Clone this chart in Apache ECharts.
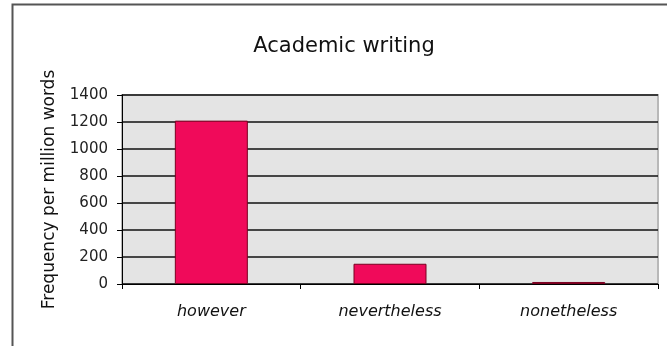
<!DOCTYPE html>
<html>
<head>
<meta charset="utf-8">
<script src="https://cdn.jsdelivr.net/npm/echarts@6/dist/echarts.min.js"></script>
<style>
  html, body { margin: 0; padding: 0; background: #ffffff; }
  #chart { width: 667px; height: 346px; }
</style>
</head>
<body>
<div id="chart"></div>
<script>
// Frequency of concessive connectors in academic writing
const categories = ['however', 'nevertheless', 'nonetheless'];
const frequency = [1210, 150, 15];
const yTicks = [0, 200, 400, 600, 800, 1000, 1200, 1400];

const chart = echarts.init(document.getElementById('chart'));
const font = '"DejaVu Sans", Verdana, sans-serif';

chart.setOption({
  animation: false,
  backgroundColor: '#ffffff',
  title: {
    text: 'Academic writing',
    left: 339,
    top: 31,
    textAlign: 'center',
    textStyle: { fontFamily: font, fontSize: 21, fontWeight: 'normal', color: '#111' }
  },
  graphic: [
    {
      type: 'rect',
      shape: { x: 12.5, y: 4.5, width: 700, height: 400 },
      style: { fill: 'none', stroke: '#555', lineWidth: 2 },
      silent: true
    },
    {
      type: 'rect',
      shape: { x: 122, y: 95, width: 536, height: 189 },
      style: { fill: 'none', stroke: '#b8b8b8', lineWidth: 2 },
      silent: true,
      z: 0
    }
  ],
  grid: {
    left: 122, top: 95, width: 536, height: 189,
    show: true, backgroundColor: '#e4e4e4', borderWidth: 0
  },
  xAxis: {
    type: 'category',
    data: categories,
    axisLine: { lineStyle: { color: '#000', width: 1 } },
    axisTick: { show: true, alignWithLabel: false, length: 5, lineStyle: { color: '#000' } },
    axisLabel: { fontFamily: font, fontSize: 16, fontStyle: 'italic', color: '#111', margin: 20 }
  },
  yAxis: {
    type: 'value',
    min: yTicks[0],
    max: yTicks[yTicks.length - 1],
    interval: 200,
    name: 'Frequency per million words',
    nameLocation: 'middle',
    nameGap: 64,
    nameTextStyle: { fontFamily: font, fontSize: 17, color: '#111' },
    axisLine: { show: true, lineStyle: { color: '#000' } },
    axisTick: { show: true, length: 5, inside: false, lineStyle: { color: '#000' } },
    axisLabel: {
      fontFamily: font, fontSize: 15, color: '#222', margin: 14,
      formatter: v => String(v)
    },
    splitLine: { show: true, lineStyle: { color: '#111', width: 1.5 } }
  },
  series: [{
    type: 'bar',
    data: frequency,
    barWidth: 73,
    itemStyle: { color: '#f00a5a', borderColor: '#7a0020', borderWidth: 1 }
  }]
});
</script>
</body>
</html>
